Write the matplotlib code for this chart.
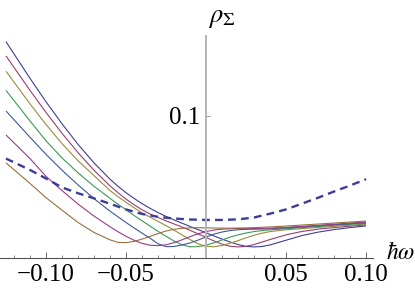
import matplotlib
matplotlib.use("Agg")
import matplotlib.pyplot as plt
from matplotlib.ticker import MultipleLocator, FixedLocator, FuncFormatter

plt.rcParams['mathtext.fontset'] = 'stix'

# energy grid (hbar omega)
x = [-0.125, -0.11, -0.10, -0.09, -0.08, -0.07, -0.06, -0.055, -0.05, -0.045,
     -0.04, -0.035, -0.03, -0.025, -0.02, -0.015, -0.01, -0.005, 0.0, 0.005,
     0.01, 0.015, 0.02, 0.025, 0.03, 0.035, 0.04, 0.05, 0.06, 0.07, 0.08,
     0.09, 0.10]

rho_1 = [0.1523, 0.1265, 0.1100, 0.0945, 0.0800, 0.0670, 0.0555, 0.0505, 0.0460, 0.0420,
         0.0383, 0.0350, 0.0320, 0.0293, 0.0268, 0.0245, 0.0222, 0.0200, 0.0178, 0.0155,
         0.0133, 0.0113, 0.0095, 0.0082, 0.0078, 0.0081, 0.0092, 0.0125, 0.0158, 0.0182,
         0.0200, 0.0214, 0.0226]
rho_2 = [0.1423, 0.1180, 0.1025, 0.0878, 0.0742, 0.0618, 0.0508, 0.0460, 0.0415, 0.0375,
         0.0340, 0.0310, 0.0285, 0.0262, 0.0240, 0.0218, 0.0195, 0.0170, 0.0145, 0.0120,
         0.0098, 0.0083, 0.0078, 0.0082, 0.0095, 0.0112, 0.0130, 0.0163, 0.0187, 0.0203,
         0.0214, 0.0224, 0.0233]
rho_3 = [0.1315, 0.1085, 0.0940, 0.0805, 0.0685, 0.0580, 0.0475, 0.0432, 0.0392, 0.0354,
         0.0318, 0.0288, 0.0258, 0.0228, 0.0196, 0.0163, 0.0130, 0.0100, 0.0082, 0.0079,
         0.0088, 0.0104, 0.0122, 0.0142, 0.0160, 0.0175, 0.0186, 0.0199, 0.0207, 0.0215,
         0.0223, 0.0231, 0.0239]
rho_4 = [0.1180, 0.0965, 0.0825, 0.0705, 0.0600, 0.0505, 0.0420, 0.0378, 0.0340, 0.0300,
         0.0262, 0.0225, 0.0188, 0.0153, 0.0120, 0.0093, 0.0079, 0.0080, 0.0090, 0.0107,
         0.0127, 0.0147, 0.0163, 0.0176, 0.0186, 0.0193, 0.0198, 0.0206, 0.0214, 0.0222,
         0.0230, 0.0237, 0.0244]
rho_5 = [0.1035, 0.0850, 0.0730, 0.0618, 0.0515, 0.0418, 0.0330, 0.0290, 0.0250, 0.0212,
         0.0175, 0.0140, 0.0100, 0.0080, 0.0081, 0.0092, 0.0106, 0.0126, 0.0148, 0.0168,
         0.0183, 0.0193, 0.0199, 0.0202, 0.0203, 0.0204, 0.0206, 0.0212, 0.0219, 0.0227,
         0.0234, 0.0241, 0.0249]
rho_6 = [0.0866, 0.0700, 0.0575, 0.0475, 0.0380, 0.0295, 0.0220, 0.0185, 0.0153, 0.0125,
         0.0103, 0.0090, 0.0087, 0.0093, 0.0108, 0.0128, 0.0150, 0.0170, 0.0186, 0.0197,
         0.0203, 0.0206, 0.0207, 0.0207, 0.0207, 0.0208, 0.0210, 0.0216, 0.0223, 0.0230,
         0.0238, 0.0246, 0.0254]
rho_7 = [0.0670, 0.0525, 0.0425, 0.0337, 0.0250, 0.0180, 0.0128, 0.0110, 0.0108, 0.0117,
         0.0133, 0.0152, 0.0172, 0.0190, 0.0202, 0.0209, 0.0212, 0.0213, 0.0212, 0.0211,
         0.0210, 0.0210, 0.0211, 0.0212, 0.0214, 0.0216, 0.0219, 0.0225, 0.0232, 0.0239,
         0.0246, 0.0253, 0.0260]

# dashed curve
x_d = [-0.125, -0.11, -0.10, -0.09, -0.08, -0.07, -0.06, -0.05, -0.04, -0.03, -0.02,
       -0.01, 0.0, 0.01, 0.02, 0.03, 0.04, 0.05, 0.06, 0.07, 0.08, 0.09, 0.10]
rho_d = [0.0700, 0.0620, 0.0560, 0.0497, 0.0456, 0.0420, 0.0382, 0.0342, 0.0310, 0.0290,
         0.0278, 0.0271, 0.0268, 0.0268, 0.0272, 0.0285, 0.0312, 0.0342, 0.0383, 0.0424,
         0.0468, 0.0510, 0.0555]

curves = [rho_1, rho_2, rho_3, rho_4, rho_5, rho_6, rho_7]
colors = ['#3d3d99', '#993d71', '#998b3d', '#3d9954', '#3d5999', '#993d88', '#99703d']

fig = plt.figure(figsize=(4.15, 2.88), dpi=100)
ax = fig.add_axes([0.0, 30 / 288, 373 / 415, 222 / 288])

for rho, c in zip(curves, colors):
    ax.plot(x, rho, color=c, lw=0.8, solid_capstyle='butt')
ax.plot(x_d, rho_d, color='#3d3d99', lw=1.7, dashes=(3.3, 2.2))

ax.set_xlim(-0.12875, 0.104375)
ax.set_ylim(0, 0.1563)

ax.spines['top'].set_visible(False)
ax.spines['right'].set_visible(False)
ax.spines['left'].set_position(('data', 0))
ax.spines['left'].set_color('#b5b5b5')
ax.spines['left'].set_linewidth(1.4)
ax.spines['bottom'].set_color('#555555')
ax.spines['bottom'].set_linewidth(0.8)

ax.xaxis.set_major_locator(FixedLocator([-0.10, -0.05, 0.05, 0.10]))
ax.xaxis.set_minor_locator(MultipleLocator(0.01))
ax.yaxis.set_major_locator(FixedLocator([0.1]))
fmt = FuncFormatter(lambda v, p: f"{v:.2f}".replace('-', '\u2212'))
ax.xaxis.set_major_formatter(fmt)
ax.yaxis.set_major_formatter(FuncFormatter(lambda v, p: f"{v:.1f}"))

ax.tick_params(axis='x', which='major', direction='in', length=4, width=0.6,
               color='#555555', pad=4, labelsize=18)
ax.tick_params(axis='x', which='minor', direction='in', length=2.5, width=0.5,
               color='#555555')
ax.tick_params(axis='y', which='major', direction='in', length=3, width=0.6,
               color='#888888', pad=4, labelsize=18)
for lab in ax.get_xticklabels() + ax.get_yticklabels():
    lab.set_family('Liberation Serif')

fig.text(386 / 415, 1 - 252 / 288, r'$\hbar\omega$', fontsize=17, va='center', ha='left')
fig.text(208 / 415, 1 - 17 / 288, r'$\rho_{\Sigma}$', fontsize=19, va='center', ha='left')

fig.savefig('out.png', dpi=100)
